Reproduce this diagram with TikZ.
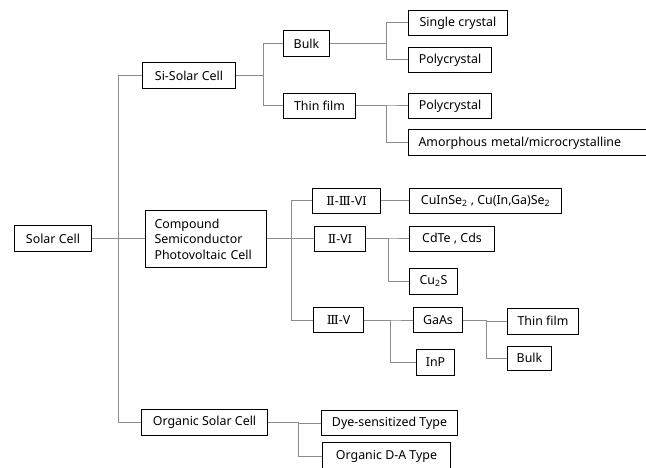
\documentclass[tikz,border=0pt]{standalone}
\usepackage{fontspec}
\setmainfont{Noto Sans}
\newfontfamily\romfont{DejaVu Serif}
\newcommand{\rII}{{\romfont Ⅱ}}
\newcommand{\rIII}{{\romfont Ⅲ}}
\begin{document}
\begin{tikzpicture}[x=1pt, y=-1pt,
		cellbox/.style={draw=black, line width=1pt, anchor=west, inner sep=0pt, font=\fontsize{12.4}{15.5}\selectfont},
		branch/.style={draw=black!45, line width=1pt}]
		\useasboundingbox (0,0) rectangle (646,468);
		\clip (0,0) rectangle (646,468);
		% first level
		\node[cellbox, minimum width=77pt, minimum height=26pt] (solar) at (14,239) {Solar Cell};
		\node[cellbox, minimum width=93pt, minimum height=26pt] (si) at (142,76) {Si-Solar Cell};
		\node[cellbox, inner xsep=9pt, text width=103pt, minimum height=57pt, align=left] (comp) at (145,239) {Compound\\Semiconductor\\Photovoltaic Cell};
		\node[cellbox, minimum width=126pt, minimum height=26pt] (org) at (141,422) {Organic Solar Cell};
		% silicon
		\node[cellbox, minimum width=46pt, minimum height=26pt] (bulk) at (283,44) {Bulk};
		\node[cellbox, minimum width=72pt, minimum height=25pt] (thin) at (283,106) {Thin film};
		\node[cellbox, minimum width=99pt, minimum height=25pt] (single) at (408,23) {Single crystal};
		\node[cellbox, minimum width=83pt, minimum height=25pt] (polyA) at (408,60) {Polycrystal};
		\node[cellbox, minimum width=83pt, minimum height=25pt] (polyB) at (408,106) {Polycrystal};
		\node[cellbox, inner xsep=10pt, text width=224pt, minimum height=26pt, align=left] (amorph) at (408,143) {Amorphous metal/microcrystalline};
		% compound
		\node[cellbox, minimum width=68pt, minimum height=25pt] (grpA) at (312,201) {\rII-\rIII-VI};
		\node[cellbox, minimum width=51pt, minimum height=25pt] (grpB) at (314,239) {\rII-VI};
		\node[cellbox, minimum width=50pt, minimum height=25pt] (grpC) at (313,320) {\rIII-V};
		\node[cellbox, minimum width=152pt, minimum height=25pt] (cis) at (409,201) {CuInSe\textsubscript{2} , Cu(In,Ga)Se\textsubscript{2}};
		\node[cellbox, minimum width=85pt, minimum height=25pt] (cdte) at (409,239) {CdTe , Cds};
		\node[cellbox, minimum width=48pt, minimum height=26pt] (cus) at (409,281) {Cu\textsubscript{2}S};
		\node[cellbox, minimum width=49pt, minimum height=25pt] (gaas) at (413,320) {GaAs};
		\node[cellbox, minimum width=38pt, minimum height=26pt] (inp) at (416,362) {InP};
		\node[cellbox, minimum width=71pt, minimum height=26pt] (gthin) at (507,321) {Thin film};
		\node[cellbox, minimum width=44pt, minimum height=24pt] (gbulk) at (507,358) {Bulk};
		% organic
		\node[cellbox, minimum width=136pt, minimum height=25pt] (dye) at (321,423) {Dye-sensitized Type};
		\node[cellbox, minimum width=128pt, minimum height=28pt] (donor) at (322,456) {Organic D-A Type};
		% connectors
		\draw[branch] (solar.east) -- (comp.west);
		\draw[branch] (solar.east) -- ++(26,0) |- (si.west);
		\draw[branch] (solar.east) -- ++(26,0) |- (org.west);
		\draw[branch] (si.east) -- ++(27,0) |- (bulk.west);
		\draw[branch] (si.east) -- ++(27,0) |- (thin.west);
		\draw[branch] (bulk.east) -- ++(56,0) |- (single.west);
		\draw[branch] (bulk.east) -- ++(56,0) |- (polyA.west);
		\draw[branch] (thin.east) -- ++(30,0) |- (polyB.west);
		\draw[branch] (thin.east) -- ++(30,0) |- (amorph.west);
		\draw[branch] (comp.east) -- ++(24,0) |- (grpA.west);
		\draw[branch] (comp.east) -- (grpB.west);
		\draw[branch] (comp.east) -- ++(24,0) |- (grpC.west);
		\draw[branch] (grpA.east) -- (cis.west);
		\draw[branch] (grpB.east) -- ++(22,0) |- (cdte.west);
		\draw[branch] (grpB.east) -- ++(22,0) |- (cus.west);
		\draw[branch] (grpC.east) -- ++(26,0) |- (gaas.west);
		\draw[branch] (grpC.east) -- ++(26,0) |- (inp.west);
		\draw[branch] (gaas.east) -- ++(23,0) |- (gthin.west);
		\draw[branch] (gaas.east) -- ++(23,0) |- (gbulk.west);
		\draw[branch] (org.east) -- ++(30,0) |- (dye.west);
		\draw[branch] (org.east) -- ++(30,0) |- (donor.west);
	\end{tikzpicture}
\end{document}
